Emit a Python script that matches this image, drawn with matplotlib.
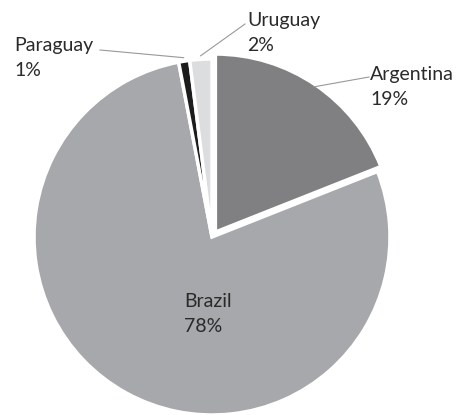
import numpy as np
import matplotlib
matplotlib.use('Agg')
import matplotlib.pyplot as plt

countries = ['Argentina', 'Brazil', 'Paraguay', 'Uruguay']
shares = [19, 78, 1, 2]
colors = ['#808083', '#a7a8ab', '#1c1c1c', '#dcdddf']

W, H = 464, 415
cx, cy, R = 212, 415 - 237, 178

fig = plt.figure(figsize=(W / 100, H / 100), dpi=100)
ax = fig.add_axes([0, 0, 1, 1])

# explode is in data units here (axes are in pixels)
wedges, _ = ax.pie(shares, colors=colors, startangle=90, counterclock=False,
                   center=(cx, cy), radius=R, explode=[6, 0, 0, 0],
                   wedgeprops=dict(edgecolor='white', linewidth=2.5))
ax.set_xlim(0, W)
ax.set_ylim(0, H)
ax.set_aspect('equal')
ax.axis('off')

font = dict(family='Lato', fontsize=14, color='#2a2a2a', linespacing=1.62)

# leader line end and text anchor (pixels from top-left)
label_pos = {
    'Argentina': ((369, 77), (370, 87)),
    'Uruguay': ((245, 24), (247, 33)),
    'Paraguay': ((100, 50), (14, 58)),
    'Brazil': (None, (184, 314)),
}

for w, name, val in zip(wedges, countries, shares):
    mid = np.deg2rad((w.theta1 + w.theta2) / 2)
    end, tpos = label_pos[name]
    if end is not None:
        x0 = cx + R * 1.02 * np.cos(mid)
        y0 = cy + R * 1.02 * np.sin(mid)
        ax.plot([x0, end[0]], [y0, H - end[1]], color='#999999', linewidth=0.8)
    ax.text(tpos[0], H - tpos[1], f'{name}\n{val}%', ha='left', va='center', **font)

fig.savefig('out.png', dpi=100, facecolor='white')
